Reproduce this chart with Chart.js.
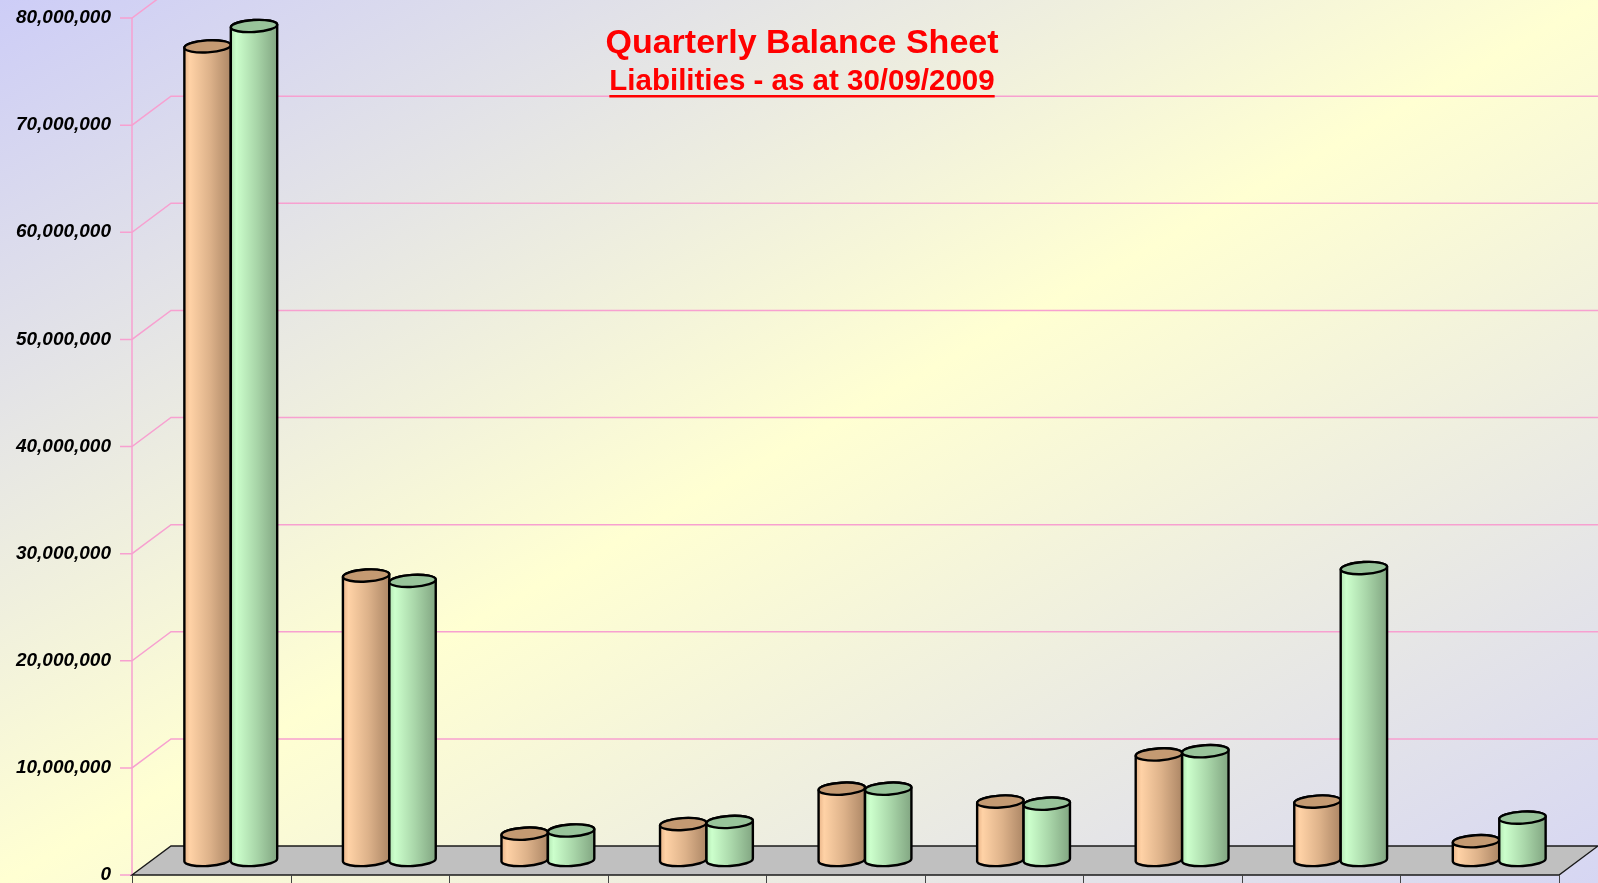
<!DOCTYPE html>
<html>
<head>
<meta charset="utf-8">
<title>Quarterly Balance Sheet</title>
<script src="https://cdn.jsdelivr.net/npm/chart.js@4.4.1/dist/chart.umd.min.js"></script>
<style>
  html, body { margin: 0; padding: 0; }
  body {
    width: 1598px; height: 883px; overflow: hidden;
    background: linear-gradient(to bottom right, #cdcdf7 0%, #ffffd2 50%, #d6d6f3 100%);
  }
  #wrap { position: relative; width: 1598px; height: 883px; }
</style>
</head>
<body>
<div id="wrap"><canvas id="myChart" width="1598" height="883"></canvas></div>
<script>
// chart data
const titleText = 'Quarterly Balance Sheet';
const subtitleText = 'Liabilities - as at 30/09/2009';
const categories = ['Item 1', 'Item 2', 'Item 3', 'Item 4', 'Item 5', 'Item 6', 'Item 7', 'Item 8', 'Item 9'];
const seriesNames = ['Previous Quarter', 'Current Quarter'];
const previousValues = [76000000, 26600000, 2500000, 3400000, 6700000, 5500000, 9900000, 5500000, 1800000];
const currentValues = [77900000, 26100000, 2800000, 3600000, 6700000, 5300000, 10200000, 27300000, 4000000];
const yTicks = [0, 10000000, 20000000, 30000000, 40000000, 50000000, 60000000, 70000000, 80000000];

// depth of the 3d box (back wall offset)
const depthX = 39, depthY = 29;

const cylStyles = [
  { stops: ['#e8b488', '#ffd2a6', '#ddb28a', '#ad8766'], top: '#c49a72' },
  { stops: ['#b2e6b2', '#ccffcc', '#a9d6a9', '#82a682'], top: '#98c49a' }
];

const box3d = {
  id: 'box3d',
  beforeDatasetsDraw(chart) {
    const { ctx, chartArea: a, scales: { y } } = chart;
    ctx.save();
    // grid on left and back walls
    ctx.strokeStyle = '#f7a0d0';
    ctx.lineWidth = 1.5;
    y.ticks.forEach(t => {
      const py = y.getPixelForValue(t.value);
      ctx.beginPath();
      ctx.moveTo(a.left - 12, py);
      ctx.lineTo(a.left, py);
      if (t.value > 0) {
        ctx.lineTo(a.left + depthX, py - depthY);
        ctx.lineTo(chart.width, py - depthY);
      }
      ctx.stroke();
    });
    ctx.beginPath();
    ctx.moveTo(a.left, y.getPixelForValue(yTicks[yTicks.length - 1]));
    ctx.lineTo(a.left, a.bottom);
    ctx.stroke();

    // floor
    const fy = y.getPixelForValue(0);
    ctx.beginPath();
    ctx.moveTo(a.left, fy);
    ctx.lineTo(a.right, fy);
    ctx.lineTo(a.right + depthX, fy - depthY);
    ctx.lineTo(a.left + depthX, fy - depthY);
    ctx.closePath();
    ctx.fillStyle = '#c0c0c0';
    ctx.fill();
    ctx.strokeStyle = '#1a1a1a';
    ctx.lineWidth = 1.4;
    ctx.stroke();

    // front face of the floor slab
    const catW = (a.right - a.left) / categories.length;
    ctx.strokeStyle = '#444';
    ctx.lineWidth = 1;
    for (let i = 0; i <= categories.length; i++) {
      const bx = Math.round(a.left + i * catW) + 0.5;
      ctx.beginPath();
      ctx.moveTo(bx, fy);
      ctx.lineTo(bx, chart.height);
      ctx.stroke();
    }
    ctx.restore();
  },
  afterDatasetsDraw(chart) {
    const { ctx } = chart;
    const ry = 6, rot = -0.06;
    ctx.save();
    chart.data.datasets.forEach((ds, di) => {
      const st = cylStyles[di];
      chart.getDatasetMeta(di).data.forEach(bar => {
        const cx = bar.x + depthX / 2;
        const rx = bar.width / 2;
        const topY = bar.y - depthY / 2;
        const botY = bar.base - depthY / 2;
        const g = ctx.createLinearGradient(cx - rx, 0, cx + rx, 0);
        g.addColorStop(0, st.stops[0]);
        g.addColorStop(0.12, st.stops[1]);
        g.addColorStop(0.55, st.stops[2]);
        g.addColorStop(1, st.stops[3]);
        ctx.beginPath();
        ctx.ellipse(cx, botY, rx, ry, rot, Math.PI, 0, true);
        ctx.ellipse(cx, topY, rx, ry, rot, 0, Math.PI, true);
        ctx.closePath();
        ctx.fillStyle = g;
        ctx.fill();
        ctx.strokeStyle = '#000';
        ctx.lineWidth = 2.4;
        ctx.stroke();
        ctx.beginPath();
        ctx.ellipse(cx, topY, rx, ry, rot, 0, Math.PI * 2);
        ctx.fillStyle = st.top;
        ctx.fill();
        ctx.stroke();
      });
    });
    ctx.restore();
  },
  afterDraw(chart) {
    const { ctx } = chart;
    ctx.save();
    ctx.fillStyle = '#ff0000';
    ctx.textAlign = 'center';
    ctx.textBaseline = 'alphabetic';
    ctx.font = 'bold 34px "Liberation Sans", Arial, sans-serif';
    ctx.fillText(titleText, 802, 53);
    ctx.font = 'bold 29.5px "Liberation Sans", Arial, sans-serif';
    ctx.fillText(subtitleText, 802, 90);
    const w = ctx.measureText(subtitleText).width;
    ctx.fillRect(802 - w / 2, 95, w, 2.5);
    ctx.restore();
  }
};

new Chart(document.getElementById('myChart'), {
  type: 'bar',
  data: {
    labels: categories,
    datasets: [
      { label: seriesNames[0], data: previousValues, backgroundColor: 'rgba(0,0,0,0)', borderWidth: 0 },
      { label: seriesNames[1], data: currentValues, backgroundColor: 'rgba(0,0,0,0)', borderWidth: 0 }
    ]
  },
  options: {
    responsive: false,
    animation: false,
    events: [],
    layout: { padding: { top: 18, right: 39, left: 0, bottom: 8 } },
    plugins: { legend: { display: false }, title: { display: false }, tooltip: { enabled: false } },
    datasets: { bar: { categoryPercentage: 0.586, barPercentage: 1 } },
    scales: {
      x: { display: false },
      y: {
        min: 0,
        max: 80000000,
        // invisible tick marks only push the labels away from the axis
        grid: { display: true, drawOnChartArea: false, drawTicks: true, tickLength: 21, color: 'rgba(0,0,0,0)' },
        border: { display: false },
        afterBuildTicks: s => { s.ticks = yTicks.map(v => ({ value: v })); },
        afterFit: s => { s.width = 132; },
        ticks: {
          padding: 0,
          color: '#000',
          font: { family: '"Liberation Sans", Arial, sans-serif', size: 19, weight: 'bold', style: 'italic', lineHeight: 0.8 },
          callback: v => v.toLocaleString('en-US')
        }
      }
    }
  },
  plugins: [box3d]
});
</script>
</body>
</html>
